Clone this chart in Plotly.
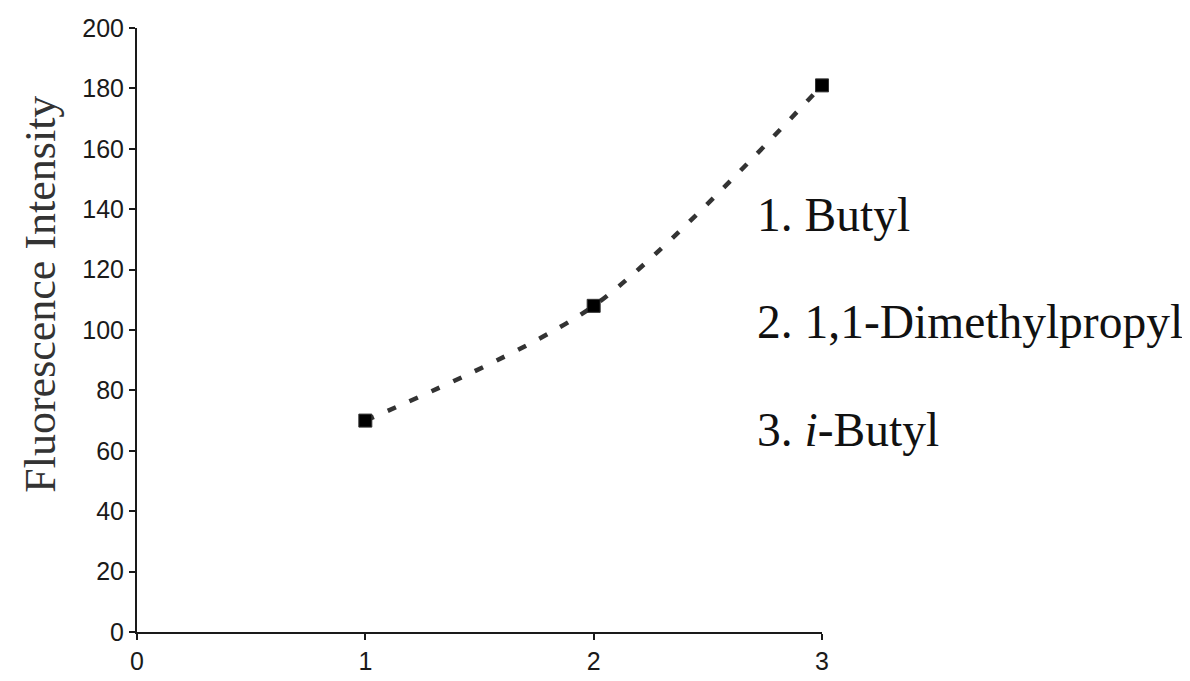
import plotly.graph_objects as go

# Data
compound_index = [1, 2, 3]
fluorescence = [70, 108, 181]
compound_labels = ["1. Butyl", "2. 1,1-Dimethylpropyl", "3. <i>i</i>-Butyl"]
label_y = [138, 102.5, 67]  # y-values (data units) where the labels sit
y_title = "Fluorescence Intensity"

fig = go.Figure()

fig.add_trace(go.Scatter(
    x=compound_index, y=fluorescence, mode="lines",
    line=dict(color="#333333", width=4.5, dash="9px,15px", shape="spline", smoothing=0.8),
    showlegend=False, hoverinfo="skip", cliponaxis=False,
))
fig.add_trace(go.Scatter(
    x=compound_index, y=fluorescence, mode="markers",
    marker=dict(symbol="square", size=13, color="#000000", line=dict(color="#333", width=1)),
    showlegend=False, cliponaxis=False,
))

for lab, ly in zip(compound_labels, label_y):
    fig.add_annotation(
        x=0.902, xref="paper", y=ly, yref="y", text=lab, showarrow=False,
        xanchor="left", yanchor="middle",
        font=dict(family="Liberation Serif, Times New Roman, serif", size=47.5, color="#111"),
    )

fig.add_annotation(
    x=-0.142, xref="paper", y=(632 - 294) / 604, yref="paper", text=y_title,
    textangle=-90, showarrow=False, xanchor="center", yanchor="middle",
    font=dict(family="Liberation Serif, Times New Roman, serif", size=44, color="#333"),
)

axis_common = dict(
    showline=True, linecolor="#1a1a1a", linewidth=2, showgrid=False, zeroline=False,
    ticks="outside", ticklen=6, tickwidth=2, tickcolor="#1a1a1a",
    tickfont=dict(family="Liberation Sans, Arial, sans-serif", size=25, color="#1a1a1a"),
)

fig.update_xaxes(range=[0, 3], tickvals=[0, 1, 2, 3], **axis_common)
fig.update_yaxes(range=[0, 200], dtick=20, tick0=0, **axis_common)

fig.update_layout(
    width=1190, height=681,
    margin=dict(l=129, r=376, t=20, b=57, autoexpand=False),
    paper_bgcolor="white", plot_bgcolor="white",
)

fig.write_html("out.html")
